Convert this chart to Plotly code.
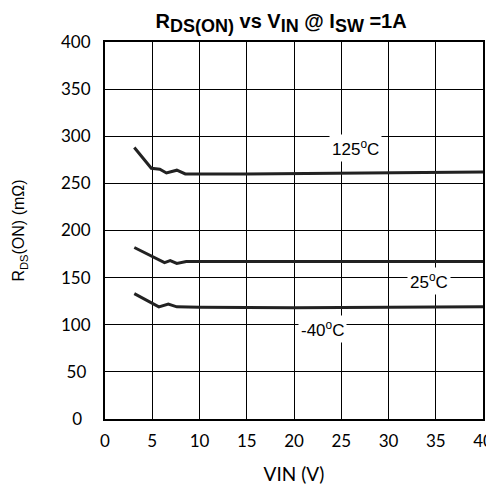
import plotly.graph_objects as go

vin_125 = [3.1, 4.9, 5.8, 6.5, 7.6, 8.5, 15, 25, 40]
r_125 = [288, 266, 265, 261, 264, 260, 260, 260.5, 262]
vin_25 = [3.1, 4.9, 6.3, 6.9, 7.6, 8.6, 15, 25, 40]
r_25 = [182, 173, 166, 168, 165, 167, 167, 167, 167]
vin_m40 = [3.1, 4.9, 5.7, 6.7, 7.6, 10, 20, 30, 40]
r_m40 = [133, 123, 119, 122, 119, 118.5, 118, 118.5, 119]

labels = ["125<sup>o</sup>C", "25<sup>o</sup>C", "-40<sup>o</sup>C"]
label_x = [26.5, 34.3, 23]
label_y = [288, 146, 95]

x_ticks = [0, 5, 10, 15, 20, 25, 30, 35, 40]
y_ticks = [0, 50, 100, 150, 200, 250, 300, 350, 400]
# centred-looking y labels: pad shorter numbers on the right
y_ticktext = ["0\u2002", "50\u2005", "100", "150", "200", "250", "300", "350", "400"]

fig = go.Figure()
for xs, ys in [(vin_125, r_125), (vin_25, r_25), (vin_m40, r_m40)]:
    fig.add_trace(go.Scatter(x=xs, y=ys, mode="lines",
                             line=dict(color="#222222", width=3),
                             showlegend=False, hoverinfo="skip"))

for t, x, y in zip(labels, label_x, label_y):
    fig.add_annotation(x=x, y=y, text=t, showarrow=False, bgcolor="white",
                       font=dict(family="Liberation Sans, Arial", size=17, color="black"),
                       borderpad=2)

sub = "<sub><span style='font-size:18px'>{}</span></sub>"
title_text = ("<b>R" + sub.format("DS(ON)") + " vs V" + sub.format("IN") +
              " @ I" + sub.format("SW") + " =1A</b>")

fig.update_layout(
    width=486, height=481,
    margin=dict(l=97, r=11, t=34, b=70),
    paper_bgcolor="white", plot_bgcolor="white",
    title=dict(text=title_text,
               x=0.562, xanchor="center", y=1 - 13 / 481, yanchor="middle",
               font=dict(family="Liberation Sans, Arial", size=20, color="black")),
)
fig.update_xaxes(range=[0, 40], tickvals=x_ticks, showgrid=True, gridcolor="black", gridwidth=1.3,
                 showline=True, linecolor="black", linewidth=2, mirror=True, zeroline=False,
                 ticks="", ticklabelstandoff=6, automargin=False,
                 tickfont=dict(family="Lato, Open Sans", size=17, color="black"),
                 title=dict(text="VIN (V)", font=dict(family="Lato, Open Sans", size=19, color="black"),
                            standoff=17))
fig.update_yaxes(range=[0, 400], tickvals=y_ticks, ticktext=y_ticktext,
                 showgrid=True, gridcolor="black", gridwidth=1.3,
                 showline=True, linecolor="black", linewidth=2, mirror=True, zeroline=False,
                 ticks="", ticklabelstandoff=9, automargin=False,
                 tickfont=dict(family="Lato, Open Sans", size=17, color="black"),
                 title=dict(text="R<sub>DS</sub>(ON) (mΩ)",
                            font=dict(family="Liberation Sans, Arial", size=16, color="black"),
                            standoff=32))

fig.write_html("out.html")
